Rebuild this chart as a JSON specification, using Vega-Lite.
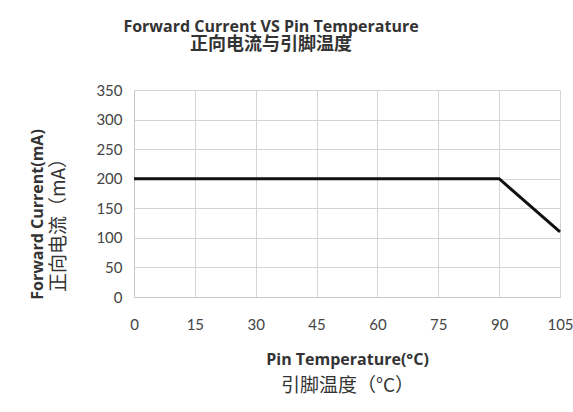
{
  "$schema": "https://vega.github.io/schema/vega-lite/v6.json",
  "width": 426,
  "height": 207,
  "autosize": {"type": "none"},
  "padding": {"left": 134, "top": 90, "right": 13, "bottom": 115},
  "background": "white",
  "title": {
    "text": "Forward Current VS Pin Temperature",
    "subtitle": "正向电流与引脚温度",
    "anchor": "middle",
    "frame": "group",
    "dx": -76,
    "offset": 29,
    "font": "Open Sans",
    "fontSize": 16,
    "fontWeight": "bold",
    "color": "#333333",
    "subtitleFont": "Noto Sans CJK SC",
    "subtitleFontSize": 18,
    "subtitleFontWeight": "bold",
    "subtitleColor": "#333333",
    "subtitlePadding": 1
  },
  "data": {"values": [
    {"temp": 0, "current": 200},
    {"temp": 90, "current": 200},
    {"temp": 105, "current": 110}
  ]},
  "config": {
    "view": {"stroke": null},
    "axis": {
      "grid": true,
      "gridColor": "#d4d4d4",
      "gridWidth": 1,
      "domainColor": "#c8c8c8",
      "ticks": false,
      "labelFont": "Lato",
      "labelFontSize": 15,
      "labelColor": "#444444",
      "titleColor": "#333333"
    }
  },
  "layer": [
    {
      "mark": {"type": "line", "color": "#111111", "strokeWidth": 3},
      "encoding": {
        "x": {
          "field": "temp", "type": "quantitative",
          "scale": {"domain": [0, 105], "nice": false},
          "axis": {
            "orient": "bottom",
            "values": [0, 15, 30, 45, 60, 75, 90, 105],
            "labelPadding": 20,
            "labelFlush": false,
            "title": "Pin Temperature(°C)",
            "titleFont": "Open Sans",
            "titleFontSize": 16,
            "titleFontWeight": "bold",
            "titlePadding": 19
          }
        },
        "y": {
          "field": "current", "type": "quantitative",
          "scale": {"domain": [0, 350], "nice": false},
          "axis": {
            "orient": "left",
            "values": [0, 50, 100, 150, 200, 250, 300, 350],
            "labelPadding": 12,
            "title": "Forward Current(mA)",
            "titleFont": "Open Sans",
            "titleFontSize": 16,
            "titleFontWeight": "bold",
            "titlePadding": 50,
            "titleY": 124
          }
        }
      }
    },
    {
      "mark": {"type": "line", "opacity": 0},
      "encoding": {
        "x": {
          "field": "temp", "type": "quantitative",
          "scale": {"domain": [0, 105], "nice": false},
          "axis": {
            "orient": "bottom",
            "grid": false,
            "domain": false,
            "labels": false,
            "title": "引脚温度（°C）",
            "titleFont": "Noto Sans CJK SC",
            "titleFontSize": 19,
            "titleFontWeight": "normal",
            "titlePadding": 79
          }
        },
        "y": {
          "field": "current", "type": "quantitative",
          "scale": {"domain": [0, 350], "nice": false},
          "axis": {
            "orient": "left",
            "grid": false,
            "domain": false,
            "labels": false,
            "title": "正向电流（mA）",
            "titleFont": "Noto Sans CJK SC",
            "titleFontSize": 19,
            "titleFontWeight": "normal",
            "titlePadding": 66,
            "titleY": 130
          }
        }
      }
    }
  ],
  "resolve": {"axis": {"x": "independent", "y": "independent"}}
}
